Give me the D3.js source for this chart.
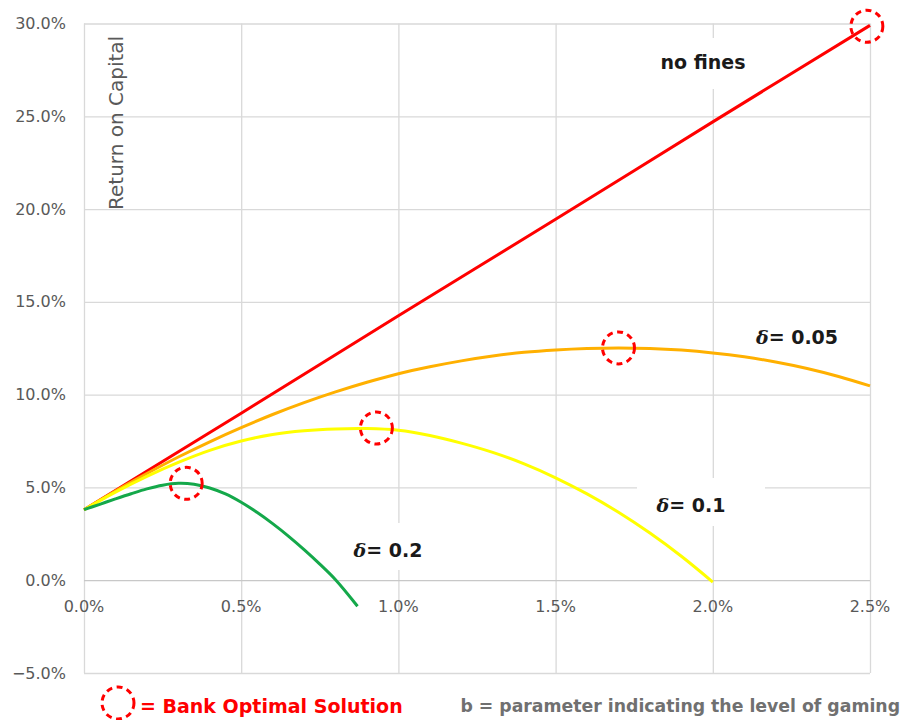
<!DOCTYPE html>
<html>
<head>
<meta charset="utf-8">
<script src="https://cdn.jsdelivr.net/npm/d3@7"></script>
<style>
  body { margin: 0; background: #fff; }
  svg { display: block; }
</style>
</head>
<body>
<div id="chart"></div>
<script>
// x = b (% gaming), y = return on capital (%)
const bNoFines = [0, 0.5, 1.0, 1.5, 2.0, 2.5];
const rocNoFines = [3.8, 9.0, 14.25, 19.45, 24.7, 29.9];

const bD005 = [0, 0.1, 0.2, 0.3, 0.4, 0.5, 0.6, 0.7, 0.8, 0.9, 1.0, 1.1, 1.2, 1.3,
    1.4, 1.5, 1.6, 1.7, 1.8, 1.9, 2.0, 2.1, 2.2, 2.3, 2.4, 2.5];
const rocD005 = [3.8, 4.81, 5.75, 6.64, 7.46, 8.22, 8.93, 9.57, 10.15, 10.67, 11.13, 11.5,
    11.82, 12.08, 12.28, 12.41, 12.49, 12.52, 12.49, 12.4, 12.25, 12.04, 11.76, 11.41, 10.98, 10.47];

const bD01 = [0, 0.1, 0.2, 0.3, 0.4, 0.5, 0.6, 0.7, 0.8, 0.9, 1.0, 1.1, 1.2, 1.3,
    1.4, 1.5, 1.6, 1.7, 1.8, 1.9, 2.0];
const rocD01 = [3.8, 4.75, 5.6, 6.35, 7.0, 7.5, 7.85, 8.05, 8.15, 8.17, 8.08, 7.8, 7.39,
    6.89, 6.27, 5.52, 4.65, 3.66, 2.54, 1.29, -0.1];

const bD02 = [0, 0.05, 0.1, 0.15, 0.2, 0.25, 0.3, 0.35, 0.4, 0.45, 0.5, 0.55, 0.6,
    0.65, 0.7, 0.75, 0.8, 0.87];
const rocD02 = [3.8, 4.09, 4.38, 4.66, 4.92, 5.12, 5.22, 5.17, 4.97, 4.65, 4.2, 3.66, 3.05,
    2.38, 1.65, 0.87, 0.03, -1.4];

// bank optimal solutions (circles)
const optB = [2.49, 1.70, 0.93, 0.325];
const optRoc = [29.85, 12.52, 8.2, 5.22];

const xTicks = [0, 0.5, 1.0, 1.5, 2.0, 2.5];
const yTicks = [-5, 0, 5, 10, 15, 20, 25, 30];

const dims = {
    width: 902,
    height: 720,
    left: 84,
    right: 870,
    top: 23.5,
    bottom: 673,
};

const series = [
    { b: bNoFines, roc: rocNoFines, color: '#ff0000' },
    { b: bD005, roc: rocD005, color: '#ffb000' },
    { b: bD01, roc: rocD01, color: '#ffff00' },
    { b: bD02, roc: rocD02, color: '#14a84a' },
];

const svg = d3
    .select('#chart')
    .append('svg')
    .attr('width', dims.width)
    .attr('height', dims.height);

const xScale = d3.scaleLinear().domain([0, 2.5]).range([dims.left, dims.right]);
const yScale = d3.scaleLinear().domain([-5, 30]).range([dims.bottom, dims.top]);

const fmt = d3.format('.1f');
const tickFont = 'DejaVu Sans, sans-serif';
const labelFont = 'DejaVu Sans, sans-serif';

/* gridlines via axes */
const gX = svg
    .append('g')
    .attr('transform', `translate(0, ${dims.bottom})`)
    .call(
        d3.axisBottom(xScale)
            .tickValues(xTicks)
            .tickSize(-(dims.bottom - dims.top))
            .tickFormat('')
    );
gX.select('.domain').remove();
gX.selectAll('.tick line').attr('stroke', '#d9d9d9').attr('stroke-width', 1.3);

const gY = svg
    .append('g')
    .attr('transform', `translate(${dims.left}, 0)`)
    .call(
        d3.axisLeft(yScale)
            .tickValues(yTicks)
            .tickSize(-(dims.right - dims.left))
            .tickPadding(18)
            .tickFormat(d => fmt(d) + '%')
    );
gY.select('.domain').remove();
gY.selectAll('.tick line')
    .attr('stroke', d => (d === 0 ? '#c8c8c8' : '#d9d9d9'))
    .attr('stroke-width', 1.3);
gY.selectAll('.tick text')
    .attr('fill', '#595959')
    .style('font-family', tickFont)
    .style('font-size', '16px');

/* x labels sit under the zero line */
svg.append('g')
    .selectAll('text')
    .data(xTicks)
    .join('text')
    .attr('x', d => xScale(d))
    .attr('y', yScale(0) + 32)
    .attr('text-anchor', 'middle')
    .attr('fill', '#595959')
    .style('font-family', tickFont)
    .style('font-size', '16px')
    .text(d => fmt(d) + '%');

/* white boxes behind the labels (they cut the gridlines) */
const boxes = [
    [645, 38, 118, 51],
    [637, 478, 128, 48],
    [338, 523, 102, 47],
];
svg.append('g')
    .selectAll('rect')
    .data(boxes)
    .join('rect')
    .attr('x', d => d[0])
    .attr('y', d => d[1])
    .attr('width', d => d[2])
    .attr('height', d => d[3])
    .attr('fill', '#fff');

/* lines */
const lineGenerator = d3
    .line()
    .x(d => xScale(d[0]))
    .y(d => yScale(d[1]))
    .curve(d3.curveCatmullRom.alpha(0.5));

series.forEach(s => {
    const pts = s.b.map((b, i) => [b, s.roc[i]]);
    svg.append('path')
        .datum(pts)
        .attr('d', lineGenerator)
        .attr('fill', 'none')
        .attr('stroke', s.color)
        .attr('stroke-width', 3)
        .attr('stroke-linejoin', 'round');
});

/* optimal solution markers */
const dashedCircle = (sel) =>
    sel.attr('r', 16)
        .attr('fill', 'none')
        .attr('stroke', '#ff0000')
        .attr('stroke-width', 3)
        .attr('stroke-dasharray', '6,4.5');

svg.append('g')
    .selectAll('circle')
    .data(optB)
    .join('circle')
    .attr('cx', d => xScale(d))
    .attr('cy', (d, i) => yScale(optRoc[i]))
    .call(dashedCircle);

/* axis title */
svg.append('text')
    .attr('transform', 'translate(123, 210) rotate(-90)')
    .attr('fill', '#595959')
    .style('font-family', labelFont)
    .style('font-size', '20px')
    .text('Return on Capital');

/* series labels */
const labels = [
    { x: 703, y: 69, text: 'no fines', delta: false },
    { x: 797, y: 344, text: '= 0.05', delta: true },
    { x: 691, y: 512, text: '= 0.1', delta: true },
    { x: 388, y: 557, text: '= 0.2', delta: true },
];
labels.forEach(l => {
    const t = svg.append('text')
        .attr('x', l.x)
        .attr('y', l.y)
        .attr('text-anchor', 'middle')
        .attr('fill', '#1a1a1a')
        .style('font-family', labelFont)
        .style('font-size', '19px')
        .style('font-weight', 'bold');
    if (l.delta) {
        t.append('tspan')
            .style('font-family', 'DejaVu Serif, serif')
            .style('font-style', 'italic')
            .text('δ');
    }
    t.append('tspan').text(l.text);
});

/* legend row */
svg.append('circle')
    .attr('cx', 118)
    .attr('cy', 703)
    .call(dashedCircle);

svg.append('text')
    .attr('x', 140)
    .attr('y', 713)
    .attr('fill', '#ff0000')
    .style('font-family', labelFont)
    .style('font-size', '19px')
    .style('font-weight', 'bold')
    .text('= Bank Optimal Solution');

svg.append('text')
    .attr('x', 900)
    .attr('y', 712)
    .attr('text-anchor', 'end')
    .attr('fill', '#707070')
    .style('font-family', labelFont)
    .style('font-size', '17.3px')
    .style('font-weight', 'bold')
    .text('b = parameter indicating the level of gaming');
</script>
</body>
</html>
